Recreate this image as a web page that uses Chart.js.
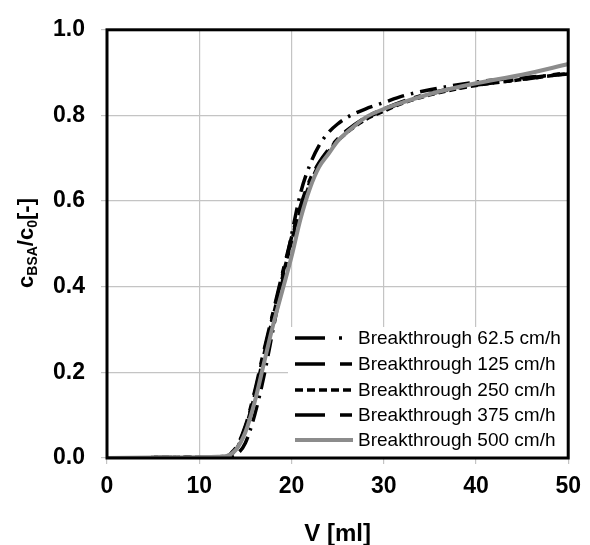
<!DOCTYPE html>
<html>
<head>
<meta charset="utf-8">
<script src="https://cdn.jsdelivr.net/npm/chart.js@4"></script>
<style>
  html, body { margin: 0; padding: 0; background: #fff; }
  #wrap { width: 590px; height: 545px; }
</style>
</head>
<body>
<div id="wrap"><canvas id="grafico"></canvas></div>
<script>
// Volumen (ml) común a todas las curvas
const volumen = [0, 5, 10, 12, 13, 14, 15, 16, 17, 18, 19, 20, 21, 22, 23, 24, 25, 26, 28, 30, 32, 35, 40, 45, 50];

// c_BSA/c_0 para cada velocidad
const bt62 = [0, 0, 0.001, 0.002, 0.003, 0.008, 0.035, 0.10, 0.19, 0.30, 0.41, 0.52, 0.62, 0.685, 0.73, 0.76, 0.78, 0.795, 0.815, 0.83, 0.845, 0.86, 0.878, 0.888, 0.897];
const bt125 = [0, 0.001, 0.002, 0.003, 0.006, 0.025, 0.075, 0.155, 0.25, 0.34, 0.43, 0.515, 0.59, 0.65, 0.69, 0.72, 0.745, 0.765, 0.795, 0.815, 0.832, 0.852, 0.872, 0.885, 0.9];
const bt250 = [0, 0.001, 0.002, 0.003, 0.005, 0.02, 0.07, 0.145, 0.24, 0.33, 0.42, 0.505, 0.58, 0.64, 0.685, 0.715, 0.74, 0.76, 0.79, 0.81, 0.828, 0.848, 0.87, 0.884, 0.898];
const bt375 = [0, 0.001, 0.002, 0.003, 0.006, 0.022, 0.072, 0.15, 0.245, 0.335, 0.425, 0.51, 0.585, 0.645, 0.688, 0.718, 0.743, 0.763, 0.792, 0.812, 0.83, 0.85, 0.871, 0.884, 0.899];
const bt500 = [0, 0.001, 0.002, 0.003, 0.005, 0.02, 0.06, 0.13, 0.22, 0.31, 0.39, 0.47, 0.56, 0.63, 0.68, 0.71, 0.74, 0.76, 0.795, 0.815, 0.83, 0.85, 0.875, 0.895, 0.92];

const etiquetas = ['Breakthrough 62.5 cm/h', 'Breakthrough 125 cm/h', 'Breakthrough 250 cm/h', 'Breakthrough 375 cm/h', 'Breakthrough 500 cm/h'];
const xTicks = [0, 10, 20, 30, 40, 50];
const yTicks = [0, 0.2, 0.4, 0.6, 0.8, 1.0];

const FUENTE = "'Liberation Sans', Arial, sans-serif";

// área de trazado buscada
const AREA = { left: 107, top: 23, right: 574, bottom: 458 };

// estilos de línea
const estilos = [
  { color: '#000', ancho: 3.5, dash: [17, 7, 2.5, 7] },
  { color: '#000', ancho: 3.5, dash: [22, 9, 7, 9] },
  { color: '#000', ancho: 3.5, dash: [7, 4] },
  { color: '#000', ancho: 3.5, dash: [18, 11, 7, 11] },
  { color: '#8c8c8c', ancho: 4, dash: [] }
];

const series = [bt62, bt125, bt250, bt375, bt500];

const datasets = series.map((serie, i) => ({
  label: etiquetas[i],
  data: serie.map((y, j) => ({ x: volumen[j], y: y })),
  borderColor: estilos[i].color,
  borderWidth: estilos[i].ancho,
  borderDash: estilos[i].dash,
  pointRadius: 0,
  fill: false,
  cubicInterpolationMode: 'monotone',
  order: i === 4 ? 0 : 1
}));

// Leyenda y títulos dibujados a mano
const plugin = {
  id: 'extras',
  afterDatasetsDraw(chart) {
    const ctx = chart.ctx;
    const a = chart.chartArea;
    ctx.save();

    // fondo de la leyenda
    ctx.fillStyle = '#fff';
    ctx.fillRect(288, 327, a.right - 288, a.bottom - 327);

    const filas = [338, 364, 390, 415, 440];
    ctx.font = '19px ' + FUENTE;
    ctx.textBaseline = 'middle';
    ctx.textAlign = 'left';
    etiquetas.forEach((txt, i) => {
      const e = estilos[i];
      ctx.strokeStyle = e.color;
      ctx.lineWidth = e.ancho;
      let muestra;
      if (i === 0) muestra = [30, 14, 3, 20];
      else if (i === 1 || i === 3) muestra = [30, 15, 12, 20];
      else if (i === 2) muestra = [8, 4];
      else muestra = [];
      ctx.setLineDash(muestra);
      ctx.beginPath();
      ctx.moveTo(295, filas[i]);
      ctx.lineTo(353, filas[i]);
      ctx.stroke();
      ctx.setLineDash([]);
      ctx.fillStyle = '#000';
      ctx.fillText(txt, 358, filas[i] + 1);
    });

    // borde del área
    ctx.strokeStyle = '#000';
    ctx.lineWidth = 3;
    ctx.strokeRect(a.left, a.top, a.right - a.left, a.bottom - a.top);

    // título eje x
    ctx.fillStyle = '#000';
    ctx.font = 'bold 24px ' + FUENTE;
    ctx.textAlign = 'center';
    ctx.textBaseline = 'alphabetic';
    ctx.fillText('V [ml]', (a.left + a.right) / 2, 541);

    // título eje y con subíndices
    ctx.translate(33, 243);
    ctx.rotate(-Math.PI / 2);
    const partes = [
      { t: 'c', f: 'bold 22px ', dy: 0 },
      { t: 'BSA', f: 'bold 14px ', dy: 4 },
      { t: '/c', f: 'bold 22px ', dy: 0 },
      { t: '0', f: 'bold 14px ', dy: 4 },
      { t: '[-]', f: 'bold 22px ', dy: 0 }
    ];
    let total = 0;
    partes.forEach(p => { ctx.font = p.f + FUENTE; total += ctx.measureText(p.t).width; });
    let x = -total / 2;
    ctx.textAlign = 'left';
    partes.forEach(p => {
      ctx.font = p.f + FUENTE;
      ctx.fillText(p.t, x, p.dy);
      x += ctx.measureText(p.t).width;
    });
    ctx.restore();
  }
};

const grafico = new Chart(document.getElementById('grafico'), {
  type: 'line',
  data: { datasets: datasets },
  options: {
    responsive: true,
    maintainAspectRatio: false,
    animation: false,
    layout: { padding: { top: AREA.top, right: 590 - AREA.right, left: 0, bottom: 0 } },
    plugins: {
      legend: { display: false },
      tooltip: { enabled: false }
    },
    scales: {
      x: {
        type: 'linear',
        min: 0,
        max: 50,
        afterFit(scale) { scale.height = 545 - AREA.bottom; },
        afterBuildTicks(scale) { scale.ticks = xTicks.map(v => ({ value: v })); },
        grid: { color: '#c4c4c4', lineWidth: 1.2, tickLength: 6, tickColor: '#c4c4c4' },
        border: { display: false },
        ticks: {
          color: '#000',
          padding: 9,
          font: { family: FUENTE, size: 23, weight: 'bold' }
        }
      },
      y: {
        min: 0,
        max: 1,
        afterFit(scale) { scale.width = AREA.left; },
        afterBuildTicks(scale) { scale.ticks = yTicks.map(v => ({ value: v })); },
        grid: { color: '#c4c4c4', lineWidth: 1.2, tickLength: 6, tickColor: '#c4c4c4' },
        border: { display: false },
        ticks: {
          color: '#000',
          padding: 16,
          font: { family: FUENTE, size: 23, weight: 'bold' },
          callback: v => v.toFixed(1)
        }
      }
    }
  },
  plugins: [plugin]
});

// corregir el área si Chart.js añadió margen extra
const ca = grafico.chartArea;
const pad = grafico.options.layout.padding;
pad.top += AREA.top - ca.top;
pad.right += ca.right - AREA.right;
pad.left += AREA.left - ca.left;
grafico.update();
</script>
</body>
</html>
